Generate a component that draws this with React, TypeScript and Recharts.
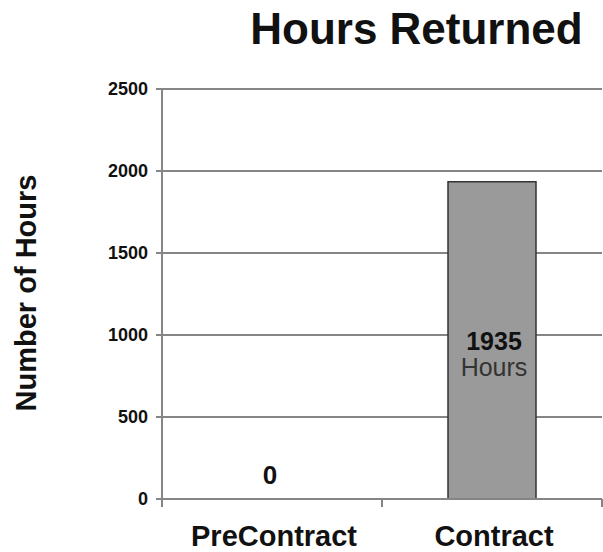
import { BarChart, Bar, XAxis, YAxis, CartesianGrid, LabelList, ReferenceDot } from "recharts";

const categories = ["PreContract", "Contract"];
const hours = [0, 1935];
const yTicks = [0, 500, 1000, 1500, 2000, 2500];

const data = categories.map((name, i) => ({ name, hours: hours[i] }));

const FONT = '"Liberation Sans", Arial, Helvetica, sans-serif';
const GRID = "#858585";

function CategoryTick(props: any) {
  const { x, y, payload, index } = props;
  const half = payload?.offset ?? 110;
  return (
    <g>
      {index === 0 && (
        <line x1={x - half} x2={x - half} y1={y} y2={y + 8} stroke={GRID} strokeWidth={2} />
      )}
      <line x1={x + half} x2={x + half} y1={y} y2={y + 8} stroke={GRID} strokeWidth={2} />
      <text
        x={x + 2}
        y={y + 47}
        textAnchor="middle"
        fontFamily={FONT}
        fontWeight="bold"
        fontSize={29}
        fill="#111"
      >
        {payload.value}
      </text>
    </g>
  );
}

function BarValueLabel(props: any) {
  const { x, y, width, height, value } = props;
  if (!value) return null;
  const cx = x + width / 2;
  const mid = y + height / 2;
  return (
    <g>
      <text x={cx + 2} y={mid + 10} textAnchor="middle" fontFamily={FONT} fontWeight="bold" fontSize={25} fill="#111">
        {value}
      </text>
      <text x={cx + 2} y={mid + 36} textAnchor="middle" fontFamily={FONT} fontSize={25} fill="#333">
        Hours
      </text>
    </g>
  );
}

function ZeroLabel(props: any) {
  const { viewBox, value } = props;
  const cx = viewBox.x + (viewBox.width || 0) / 2;
  const cy = viewBox.y + (viewBox.height || 0) / 2;
  return (
    <text x={cx - 2} y={cy - 15} textAnchor="middle" fontFamily={FONT} fontWeight="bold" fontSize={26} fill="#111">
      {value}
    </text>
  );
}

export default function App() {
  return (
    <div style={{ position: "absolute", left: 0, top: 0, width: 603, height: 552, background: "#fff" }}>
      <div
        style={{
          position: "absolute",
          left: 230,
          width: 373,
          top: 4,
          textAlign: "center",
          fontFamily: FONT,
          fontWeight: "bold",
          fontSize: 44,
          lineHeight: "50px",
          color: "#111",
        }}
      >
        Hours Returned
      </div>
      <div
        style={{
          position: "absolute",
          left: 26,
          top: 293,
          transform: "translate(-50%, -50%) rotate(-90deg)",
          whiteSpace: "nowrap",
          fontFamily: FONT,
          fontWeight: "bold",
          fontSize: 29,
          lineHeight: "32px",
          color: "#111",
        }}
      >
        Number of Hours
      </div>
      <BarChart
        width={603}
        height={552}
        data={data}
        margin={{ top: 89, right: 1, left: 0, bottom: 0 }}
        barCategoryGap="30%"
      >
        <CartesianGrid vertical={false} stroke={GRID} strokeWidth={2} />
        <XAxis
          dataKey="name"
          height={53}
          axisLine={{ stroke: GRID, strokeWidth: 2 }}
          tickLine={false}
          tickSize={0}
          tickMargin={0}
          tick={<CategoryTick />}
          interval={0}
        />
        <YAxis
          width={162}
          domain={[0, 2500]}
          ticks={yTicks}
          interval={0}
          axisLine={{ stroke: GRID, strokeWidth: 2 }}
          tickLine={{ stroke: GRID, strokeWidth: 2 }}
          tickSize={6}
          tickMargin={8}
          tick={{ fontFamily: FONT, fontWeight: "bold", fontSize: 18, fill: "#111" }}
        />
        <Bar dataKey="hours" fill="#9a9a9a" stroke="#333" strokeWidth={1.5} isAnimationActive={false}>
          <LabelList dataKey="hours" content={<BarValueLabel />} />
        </Bar>
        {data
          .filter((d) => d.hours === 0)
          .map((d) => (
            <ReferenceDot
              key={d.name}
              x={d.name}
              y={d.hours}
              r={0}
              fill="none"
              stroke="none"
              label={<ZeroLabel value={String(d.hours)} />}
            />
          ))}
      </BarChart>
    </div>
  );
}
